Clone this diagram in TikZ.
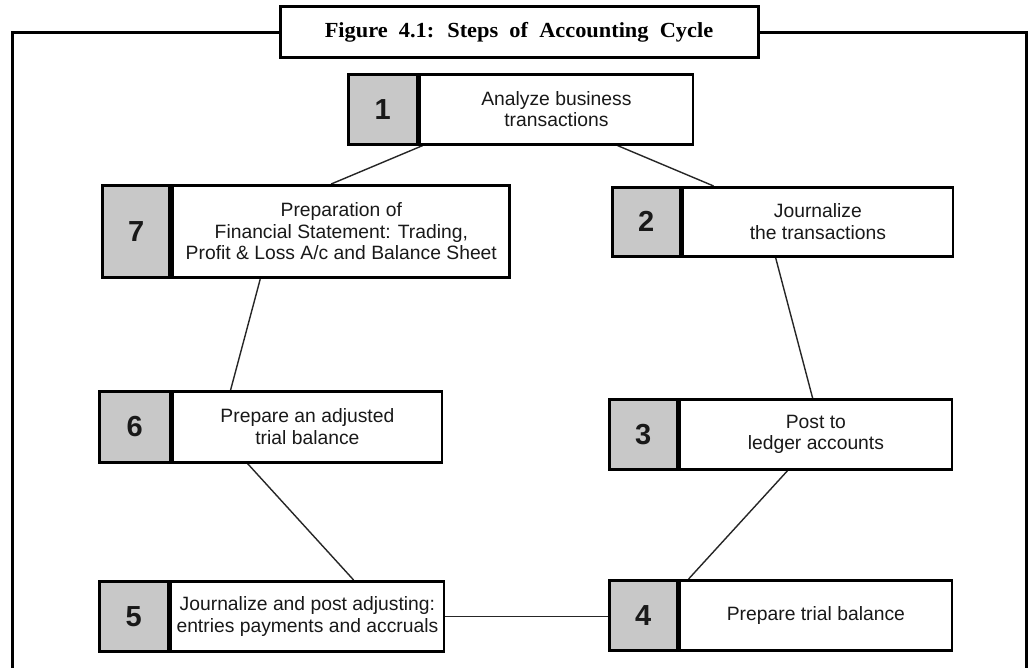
\documentclass[tikz,border=0pt]{standalone}
\usepackage{fontspec}
\setmainfont{Liberation Sans}
\newfontfamily\titlefont[FakeStretch=1.04,WordSpace=2]{Liberation Serif}
\usetikzlibrary{backgrounds,shadows}
\definecolor{numgray}{RGB}{200,200,200}
\definecolor{ink}{RGB}{25,25,25}
\tikzset{
  boxshadow/.style={drop shadow={shadow xshift=1.3pt, shadow yshift=-1.3pt, fill=black, opacity=1}},
  numbox/.style={draw=black, line width=2.6pt, fill=numgray, anchor=north west, inner sep=0pt,
    text=ink, font=\fontsize{29}{30}\selectfont\bfseries, boxshadow},
  txtbox/.style={draw=black, line width=2.6pt, fill=white, anchor=north west, inner sep=0pt,
    align=center, text=ink, font=\fontsize{19.3}{21.5}\selectfont, boxshadow},
  link/.style={line width=1.4pt, draw=black!85},
  framebox/.style={draw=black, line width=3pt, fill=white, inner sep=0pt},
  frameline/.style={draw=black, line width=3pt},
}
\begin{document}
\begin{tikzpicture}[x=1pt,y=-1pt]
\useasboundingbox (0,0) rectangle (1029,668);

% title and frame
\node[framebox, minimum width=478pt, minimum height=51pt,
      font=\titlefont\fontsize{21.5}{24}\selectfont\bfseries] (title) at (519,32.5)
      {Figure 4.1: Steps of Accounting Cycle};
\coordinate (fl) at (12,668);
\coordinate (fr) at (1026,668);
\draw[frameline] (title.west) -| (fl);
\draw[frameline] (title.east) -| (fr);

% step 1
\node[numbox, minimum width=69pt, minimum height=70pt] (n1) at (347,73) {1};
\node[txtbox, minimum width=273pt, minimum height=70pt] (t1) at (n1.north east)
  {Analyze business\\transactions};
% step 2
\node[numbox, minimum width=68pt, minimum height=69pt] (n2) at (611,186) {2};
\node[txtbox, minimum width=270pt, minimum height=69pt] (t2) at (n2.north east)
  {Journalize\\the transactions};
% step 3
\node[numbox, minimum width=68pt, minimum height=70pt] (n3) at (608,398) {3};
\node[txtbox, minimum width=272pt, minimum height=70pt] (t3) at (n3.north east)
  {Post to\\ledger accounts};
% step 4
\node[numbox, minimum width=68pt, minimum height=70pt] (n4) at (608,579) {4};
\node[txtbox, minimum width=272pt, minimum height=70pt] (t4) at (n4.north east)
  {Prepare trial balance};
% step 5
\node[numbox, minimum width=69pt, minimum height=70pt] (n5) at (98,580) {5};
\node[txtbox, minimum width=273pt, minimum height=70pt] (t5) at (n5.north east)
  {Journalize and post adjusting:\\entries payments and accruals};
% step 6
\node[numbox, minimum width=71pt, minimum height=71pt] (n6) at (98,390) {6};
\node[txtbox, minimum width=269pt, minimum height=71pt] (t6) at (n6.north east)
  {Prepare an adjusted\\trial balance};
% step 7
\node[numbox, minimum width=67pt, minimum height=92pt, line width=3.2pt] (n7) at (101,184) {7};
\node[txtbox, minimum width=337pt, minimum height=92pt, line width=3.2pt] (t7) at (n7.north east)
  {Preparation of\\Financial Statement: Trading,\\Profit \& Loss A/c and Balance Sheet};

% connectors
\begin{scope}[on background layer]
\fill[white] (0,0) rectangle (1029,668);
\draw[link] ([xshift=4pt]t1.south west) -- ([xshift=160pt]t7.north west);
\draw[link] ([xshift=199pt]t1.south west) -- ([xshift=32pt]t2.north west);
\draw[link] ([xshift=94pt]t2.south west) -- ([xshift=134pt]t3.north west);
\draw[link] ([xshift=109pt]t3.south west) -- ([xshift=10pt]t4.north west);
\draw[link] (t5.east) -- (t5.east -| n4.west);
\draw[link] ([xshift=184pt]t5.north west) -- ([xshift=76pt]t6.south west);
\draw[link] ([xshift=59pt]t6.north west) -- ([xshift=89pt]t7.south west);
\end{scope}
\end{tikzpicture}
\end{document}
